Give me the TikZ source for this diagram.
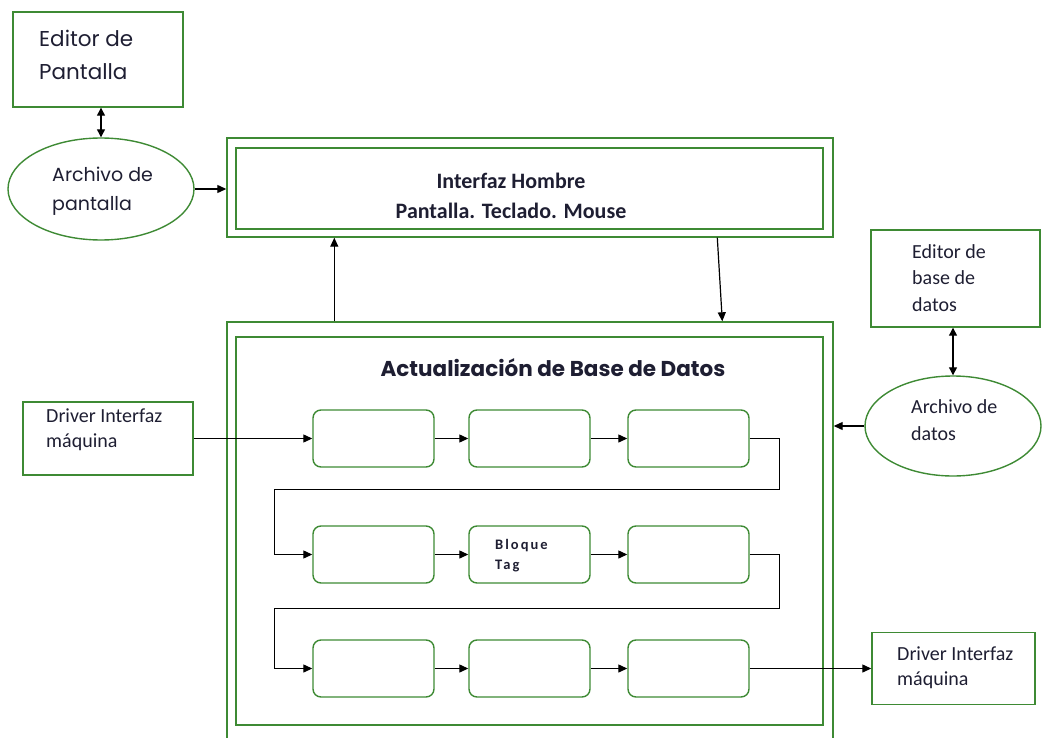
\documentclass[tikz,border=0pt]{standalone}
\usepackage{fontspec}
\setmainfont{Carlito}
\newfontfamily\comic{Poppins}
\newfontfamily\spaced[LetterSpace=14]{Carlito}
\usetikzlibrary{arrows.meta,shapes.geometric}
\definecolor{boxgreen}{RGB}{62,138,52}
\definecolor{ink}{RGB}{30,30,50}
\begin{document}
\begin{tikzpicture}[x=1pt,y=-1pt,
  box/.style={draw=boxgreen, line width=1.4pt, rectangle, inner sep=0pt},
  oval/.style={draw=boxgreen, line width=1.4pt, ellipse, inner sep=0pt},
  blk/.style={draw=boxgreen, line width=1.4pt, rounded corners=8pt,
    minimum width=121pt, minimum height=57pt, inner sep=0pt},
  arr/.style={-{Triangle[length=9pt,width=8pt]}, line width=1.2pt, black},
  darr/.style={{Triangle[length=8pt,width=8pt]}-{Triangle[length=8pt,width=8pt]}, line width=1.2pt, black},
  lbl/.style={text=ink, align=left, anchor=base west, inner sep=0pt},
  clbl/.style={text=ink, align=center, anchor=base, inner sep=0pt},
  calitxt/.style={font=\fontsize{20}{25}\selectfont}]
\useasboundingbox (0,0) rectangle (1043,738);

% screen editor and its file
\node[box, minimum width=170pt, minimum height=95pt] (edp) at (98,59.5) {};
\node[lbl, font=\comic\fontsize{21.5}{33}\selectfont] (edptxt) at (39,80) {Editor de\\Pantalla};
\node[oval, minimum width=186pt, minimum height=102pt] (archp) at (101,189) {};
\node[lbl, font=\comic\fontsize{19}{29}\selectfont] (archptxt) at (52,211) {Archivo de\\pantalla};

% man-machine interface
\node[box, minimum width=606pt, minimum height=99pt] (ihout) at (530,187.5) {};
\node[box, minimum width=587pt, minimum height=81pt] (ihin) at (529.5,188.5) {};
\node[clbl, font=\bfseries\fontsize{22}{29}\selectfont] (ihtxt) at (511,218) {Interfaz Hombre\\Pantalla. Teclado. Mouse};

% database update block
\node[box, minimum width=606pt, minimum height=440pt] (adout) at (530,542) {};
\node[box, minimum width=587pt, minimum height=388pt] (adin) at (529.5,531) {};
\node[clbl, font=\comic\bfseries\fontsize{21.5}{22}\selectfont] (adtxt) at (553,376) {Actualización de Base de Datos};

% processing chain
\node[blk] (b11) at (373.5,438.5) {};
\node[blk] (b12) at (529.5,438.5) {};
\node[blk] (b13) at (688.5,438.5) {};
\node[blk] (b21) at (373.5,554.5) {};
\node[blk] (b22) at (529.5,554.5) {};
\node[blk] (b23) at (688.5,554.5) {};
\node[blk] (b31) at (373.5,668.5) {};
\node[blk] (b32) at (529.5,668.5) {};
\node[blk] (b33) at (688.5,668.5) {};
\node[lbl, font=\spaced\bfseries\fontsize{14.5}{20}\selectfont] (tagtxt) at (495,569) {Bloque\\Tag};

% machine drivers
\node[box, minimum width=170pt, minimum height=73pt] (drvL) at (108,438.5) {};
\node[lbl, calitxt] (drvLtxt) at (46,447) {Driver Interfaz\\máquina};
\node[box, minimum width=163pt, minimum height=72pt] (drvR) at (953.5,668.5) {};
\node[lbl, calitxt] (drvRtxt) at (897,685) {Driver Interfaz\\máquina};

% database editor and its file
\node[box, minimum width=169pt, minimum height=97pt] (edb) at (955.5,278.5) {};
\node[lbl, font=\fontsize{20}{26.5}\selectfont] (edbtxt) at (912,311) {Editor de\\base de\\datos};
\node[oval, minimum width=176pt, minimum height=100pt] (archd) at (953,426) {};
\node[lbl, font=\fontsize{20}{27}\selectfont] (archdtxt) at (911,440) {Archivo de\\datos};

% connectors
\draw[darr] (archp.north |- edp.south) -- (archp.north);
\draw[arr] (archp.east) -- (archp.east -| ihout.west);
\draw[arr] ([xshift=108pt]adout.north west) -- ([xshift=108pt]ihout.south west);
\draw[arr] ([xshift=491pt]ihout.south west) -- ([xshift=496pt]adout.north west);
\draw[darr] (archd.north |- edb.south) -- (archd.north);
\draw[arr] (archd.west) -- (archd.west -| adout.east);

\draw[arr] (drvL.east) -- (b11.west);
\draw[arr] (b11) -- (b12);
\draw[arr] (b12) -- (b13);
\draw[arr] (b13.east) -- ++(30,0) |- ([xshift=-38pt,yshift=65pt]b21.west)
  -- ([xshift=-38pt]b21.west) -- (b21.west);
\draw[arr] (b21) -- (b22);
\draw[arr] (b22) -- (b23);
\draw[arr] (b23.east) -- ++(30,0) |- ([xshift=-38pt,yshift=60pt]b31.west)
  -- ([xshift=-38pt]b31.west) -- (b31.west);
\draw[arr] (b31) -- (b32);
\draw[arr] (b32) -- (b33);
\draw[arr] (b33.east) -- (drvR.west);
\end{tikzpicture}
\end{document}
